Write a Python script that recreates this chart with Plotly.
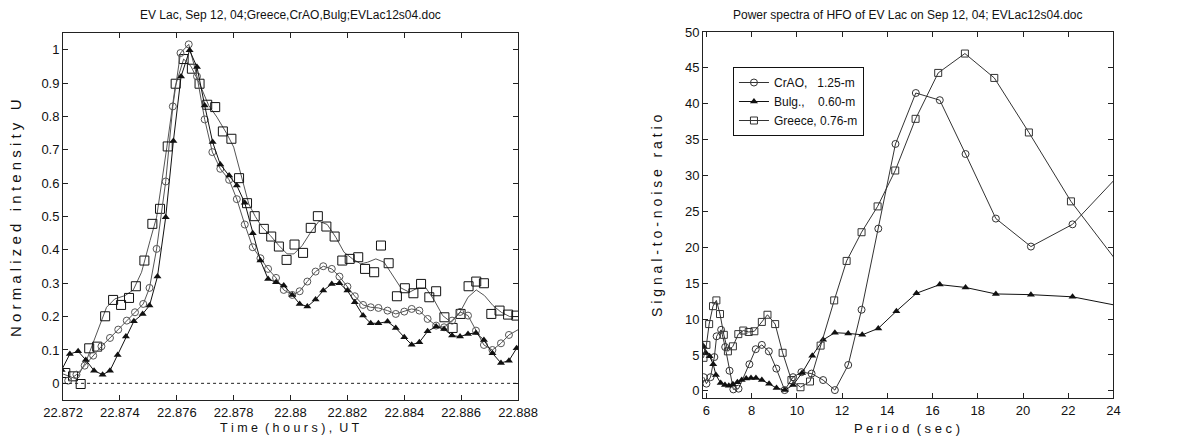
import plotly.graph_objects as go

# ---------------- Left panel: light curves ----------------
t_crao = [22.87218, 22.87247, 22.87276, 22.87306, 22.87335, 22.87365, 22.87394, 22.87424, 22.87453, 22.87482,
          22.87504, 22.87529, 22.87561, 22.87586, 22.87613, 22.87642, 22.87671, 22.87698, 22.87725, 22.87753,
          22.87784, 22.87811, 22.87839, 22.87867, 22.87894, 22.87921, 22.87949, 22.87976, 22.88006, 22.88032,
          22.88059, 22.88088, 22.88115, 22.88145, 22.88172, 22.88200, 22.88226, 22.88255, 22.88282, 22.88309,
          22.88341, 22.88370, 22.88400, 22.88426, 22.88453, 22.88482, 22.88512, 22.88540, 22.88568, 22.88596,
          22.88624, 22.88652, 22.88680, 22.88710, 22.88740, 22.88768, 22.88815]
u_crao = [0.008, 0.026, 0.053, 0.083, 0.111, 0.136, 0.161, 0.188, 0.213, 0.238,
          0.286, 0.403, 0.605, 0.830, 0.990, 1.016, 0.920, 0.791, 0.693, 0.643,
          0.610, 0.552, 0.476, 0.408, 0.375, 0.343, 0.316, 0.280, 0.265, 0.276,
          0.305, 0.335, 0.351, 0.343, 0.320, 0.290, 0.261, 0.235, 0.228, 0.226,
          0.218, 0.208, 0.215, 0.223, 0.218, 0.193, 0.173, 0.168, 0.188, 0.214,
          0.203, 0.158, 0.115, 0.100, 0.120, 0.145, 0.168]

t_bulg = [22.87195, 22.87224, 22.87253, 22.87280, 22.87309, 22.87339, 22.87365, 22.87392, 22.87421, 22.87449,
          22.87480, 22.87504, 22.87532, 22.87561, 22.87588, 22.87615, 22.87645, 22.87671, 22.87698, 22.87726,
          22.87753, 22.87784, 22.87811, 22.87839, 22.87867, 22.87894, 22.87921, 22.87949, 22.87976, 22.88006,
          22.88032, 22.88059, 22.88088, 22.88115, 22.88145, 22.88172, 22.88200, 22.88226, 22.88255, 22.88282,
          22.88309, 22.88341, 22.88370, 22.88400, 22.88426, 22.88453, 22.88482, 22.88512, 22.88540, 22.88568,
          22.88596, 22.88624, 22.88652, 22.88680, 22.88710, 22.88740, 22.88768, 22.88795, 22.88820]
u_bulg = [0.040, 0.088, 0.096, 0.070, 0.038, 0.026, 0.038, 0.085, 0.140, 0.186,
          0.208, 0.233, 0.320, 0.498, 0.726, 0.920, 0.998, 0.948, 0.833, 0.723,
          0.656, 0.623, 0.593, 0.541, 0.450, 0.368, 0.313, 0.303, 0.293, 0.265,
          0.238, 0.230, 0.251, 0.278, 0.298, 0.300, 0.278, 0.243, 0.203, 0.180,
          0.180, 0.185, 0.166, 0.138, 0.116, 0.123, 0.156, 0.170, 0.163, 0.143,
          0.140, 0.148, 0.151, 0.130, 0.090, 0.061, 0.068, 0.105, 0.135]

t_gr = [22.87208, 22.87235, 22.87262, 22.87292, 22.87320, 22.87348, 22.87376, 22.87404, 22.87432, 22.87456,
        22.87486, 22.87514, 22.87541, 22.87568, 22.87596, 22.87624, 22.87653, 22.87680, 22.87707, 22.87735,
        22.87762, 22.87792, 22.87819, 22.87847, 22.87874, 22.87906, 22.87932, 22.87959, 22.87986, 22.88014,
        22.88044, 22.88071, 22.88096, 22.88126, 22.88155, 22.88182, 22.88208, 22.88238, 22.88262, 22.88294,
        22.88318, 22.88345, 22.88374, 22.88402, 22.88432, 22.88459, 22.88488, 22.88512, 22.88541, 22.88570,
        22.88598, 22.88626, 22.88653, 22.88680, 22.88706, 22.88735, 22.88765, 22.88794]
u_gr = [0.031, 0.021, -0.002, 0.105, 0.110, 0.201, 0.250, 0.235, 0.256, 0.291,
        0.368, 0.478, 0.523, 0.710, 0.898, 0.972, 0.943, 0.898, 0.835, 0.828,
        0.755, 0.733, 0.615, 0.540, 0.501, 0.463, 0.440, 0.410, 0.370, 0.416,
        0.391, 0.466, 0.501, 0.470, 0.440, 0.368, 0.373, 0.378, 0.343, 0.333,
        0.413, 0.360, 0.261, 0.285, 0.270, 0.298, 0.258, 0.276, 0.198, 0.166,
        0.208, 0.291, 0.305, 0.300, 0.208, 0.218, 0.206, 0.203]

# smoothed Greece curve
t_grs = [22.87200, 22.87247, 22.87282, 22.87318, 22.87353, 22.87382, 22.87418, 22.87447, 22.87476, 22.87506,
         22.87529, 22.87565, 22.87594, 22.87624, 22.87650, 22.87680, 22.87712, 22.87741, 22.87776, 22.87800,
         22.87824, 22.87853, 22.87876, 22.87900, 22.87929, 22.87959, 22.87988, 22.88012, 22.88041, 22.88071,
         22.88100, 22.88129, 22.88159, 22.88188, 22.88218, 22.88247, 22.88271, 22.88300, 22.88329, 22.88359,
         22.88388, 22.88418, 22.88447, 22.88476, 22.88506, 22.88535, 22.88565, 22.88594, 22.88624, 22.88653,
         22.88682, 22.88712, 22.88741, 22.88771, 22.88800]
u_grs = [0.028, 0.013, 0.068, 0.148, 0.228, 0.253, 0.263, 0.280, 0.333, 0.428,
         0.498, 0.708, 0.888, 0.972, 0.950, 0.898, 0.833, 0.798, 0.748, 0.708,
         0.628, 0.538, 0.500, 0.468, 0.443, 0.413, 0.388, 0.388, 0.413, 0.453,
         0.486, 0.476, 0.438, 0.393, 0.373, 0.358, 0.363, 0.373, 0.363, 0.323,
         0.286, 0.273, 0.286, 0.286, 0.248, 0.203, 0.183, 0.210, 0.258, 0.280,
         0.263, 0.233, 0.213, 0.200, 0.200]

# ---------------- Right panel: power spectra ----------------
p_crao = [5.88, 6.00, 6.18, 6.35, 6.45, 6.65, 6.83, 7.02, 7.19, 7.42, 7.90, 8.18, 8.45, 8.76, 9.09,
          9.46, 9.83, 10.20, 10.65, 11.16, 11.68, 12.27, 12.86, 13.60, 14.36, 15.26, 16.32, 17.46,
          18.80, 20.35, 22.19, 24.40]
s_crao = [1.9, 1.0, 1.9, 4.7, 7.6, 8.5, 6.1, 2.8, 0.2, 0.3, 3.7, 5.8, 6.4, 5.5, 3.1,
          0.1, 1.9, 2.6, 2.4, 1.5, 0.1, 3.6, 11.3, 22.6, 34.4, 41.5, 40.5, 33.0,
          24.0, 20.1, 23.2, 30.6]

p_bulg = [5.87, 5.97, 6.14, 6.30, 6.42, 6.63, 6.82, 6.99, 7.17, 7.37, 7.56, 7.76, 7.97, 8.19, 8.45,
          8.77, 9.10, 9.47, 9.83, 10.23, 10.68, 11.16, 11.68, 12.27, 12.89, 13.60, 14.40, 15.29,
          16.32, 17.46, 18.80, 20.35, 22.19, 24.30]
s_bulg = [6.2, 5.3, 4.8, 3.7, 2.2, 1.1, 0.8, 0.7, 0.9, 1.2, 1.5, 1.7, 1.8, 1.8, 1.5,
          1.0, 0.4, 0.1, 0.8, 2.5, 4.9, 7.1, 8.1, 8.0, 7.8, 8.7, 11.1, 13.6,
          14.8, 14.4, 13.5, 13.4, 13.1, 11.8]

p_gr = [5.87, 6.00, 6.12, 6.29, 6.44, 6.60, 6.77, 6.95, 7.17, 7.41, 7.63, 7.87, 8.12, 8.45, 8.70,
        9.04, 9.37, 9.76, 10.16, 10.58, 11.05, 11.65, 12.20, 12.86, 13.57, 14.35, 15.25, 16.25,
        17.43, 18.73, 20.26, 22.12, 24.50]
s_gr = [4.6, 6.4, 9.3, 11.8, 12.6, 10.7, 7.8, 5.5, 6.2, 7.9, 8.4, 8.2, 8.3, 9.6, 10.6,
        9.3, 5.3, 1.5, 0.5, 1.3, 6.3, 12.6, 18.1, 22.1, 25.7, 30.7, 37.9, 44.3,
        47.0, 43.6, 36.0, 26.4, 16.6]

legend_names = ["CrAO,\u00a0\u00a0\u00a01.25-m", "Bulg.,\u00a0\u00a0\u00a0\u00a00.60-m", "Greece,\u00a00.76-m"]

left_xticks = [22.872, 22.874, 22.876, 22.878, 22.88, 22.882, 22.884, 22.886, 22.888]
left_xtext = ["22.872", "22.874", "22.876", "22.878", "22.88", "22.882", "22.884", "22.886", "22.888"]
left_yticks = [0, 0.1, 0.2, 0.3, 0.4, 0.5, 0.6, 0.7, 0.8, 0.9, 1]
right_xticks = [6, 8, 10, 12, 14, 16, 18, 20, 22, 24]
right_yticks = [0, 5, 10, 15, 20, 25, 30, 35, 40, 45, 50]

FONT = "Liberation Sans Narrow, Arial Narrow, Liberation Sans, Arial, sans-serif"
GRAY = "#555555"
BLACK = "#111111"

fig = go.Figure()

# Left panel traces
fig.add_trace(go.Scatter(x=t_grs, y=u_grs, mode="lines", line=dict(color=GRAY, width=1),
                         showlegend=False, xaxis="x", yaxis="y"))
fig.add_trace(go.Scatter(x=t_gr, y=u_gr, mode="markers",
                         marker=dict(symbol="square-open", size=9, color=BLACK, line=dict(width=1)),
                         showlegend=False, xaxis="x", yaxis="y"))
fig.add_trace(go.Scatter(x=t_crao, y=u_crao, mode="lines+markers", line=dict(color=GRAY, width=1),
                         marker=dict(symbol="circle-open", size=7, color=GRAY, line=dict(width=1)),
                         showlegend=False, xaxis="x", yaxis="y"))
fig.add_trace(go.Scatter(x=t_bulg, y=u_bulg, mode="lines+markers", line=dict(color=BLACK, width=1),
                         marker=dict(symbol="triangle-up", size=7, color=BLACK),
                         showlegend=False, xaxis="x", yaxis="y"))

# Right panel traces
fig.add_trace(go.Scatter(x=p_crao, y=s_crao, mode="lines+markers", name=legend_names[0],
                         line=dict(color="#333333", width=1),
                         marker=dict(symbol="circle-open", size=7, color="#333333", line=dict(width=1)),
                         xaxis="x2", yaxis="y2"))
fig.add_trace(go.Scatter(x=p_bulg, y=s_bulg, mode="lines+markers", name=legend_names[1],
                         line=dict(color=BLACK, width=1),
                         marker=dict(symbol="triangle-up", size=7, color=BLACK),
                         xaxis="x2", yaxis="y2"))
fig.add_trace(go.Scatter(x=p_gr, y=s_gr, mode="lines+markers", name=legend_names[2],
                         line=dict(color="#333333", width=1),
                         marker=dict(symbol="square-open", size=7, color="#333333", line=dict(width=1)),
                         xaxis="x2", yaxis="y2"))

axis_common = dict(showline=True, linecolor="#222222", linewidth=1, mirror="ticks",
                   ticks="inside", ticklen=5, tickcolor="#222222", showgrid=False, zeroline=False,
                   automargin=False,
                   tickfont=dict(family=FONT, size=13, color="#111111"))

fig.update_layout(
    width=1192, height=439,
    margin=dict(l=0, r=0, t=0, b=0, autoexpand=False),
    paper_bgcolor="white", plot_bgcolor="white",
    font=dict(family=FONT, color="#111111"),
    xaxis=dict(domain=[0.0529, 0.4346], range=[22.872, 22.888], tickvals=left_xticks,
               ticktext=left_xtext, anchor="y", **axis_common),
    yaxis=dict(domain=[0.0888, 0.9248], range=[-0.05, 1.05], tickvals=left_yticks,
               anchor="x", **axis_common),
    xaxis2=dict(domain=[0.5898, 0.9341], range=[5.85, 24], tickvals=right_xticks,
                anchor="y2", **axis_common),
    yaxis2=dict(domain=[0.0934, 0.9271], range=[-1, 50], tickvals=right_yticks,
                anchor="x2", **axis_common),
    legend=dict(x=0.6149, y=1 - 67 / 439, xanchor="left", yanchor="top",
                bgcolor="white", bordercolor="#111111", borderwidth=1,
                font=dict(family=FONT, size=12, color="#111111"),
                itemwidth=30, tracegroupgap=0),
    shapes=[dict(type="line", xref="x domain", yref="y", x0=0, x1=1, y0=0, y1=0,
                 line=dict(color="#222222", width=1, dash="3px,3px"))],
    annotations=[
        dict(text="EV Lac, Sep 12, 04;Greece,CrAO,Bulg;EVLac12s04.doc", xref="paper", yref="paper",
             x=0.2437, y=1 - 15 / 439, showarrow=False, xanchor="center", yanchor="middle",
             font=dict(family=FONT, size=12)),
        dict(text="Power spectra of HFO of EV Lac on Sep 12, 04; EVLac12s04.doc", xref="paper",
             yref="paper", x=0.762, y=1 - 15 / 439, showarrow=False, xanchor="center",
             yanchor="middle", font=dict(family=FONT, size=12)),
        dict(text="T i m e  ( h o u r s ) ,  U T".replace("  ", "\u00a0\u00a0"), xref="paper",
             yref="paper", x=0.2437, y=1 - 428 / 439, showarrow=False, xanchor="center",
             yanchor="middle", font=dict(family=FONT, size=12.5)),
        dict(text="P e r i o d  ( s e c )".replace("  ", "\u00a0\u00a0"), xref="paper",
             yref="paper", x=0.761, y=1 - 428 / 439, showarrow=False, xanchor="center",
             yanchor="middle", font=dict(family=FONT, size=13)),
        dict(text="N o r m a l i z e d   i n t e n s i t y   U".replace("   ", "\u00a0\u00a0\u00a0"),
             xref="paper", yref="paper", x=16 / 1192, y=1 - 218 / 439, showarrow=False,
             textangle=-90, xanchor="center", yanchor="middle", font=dict(family=FONT, size=15)),
        dict(text="S i g n a l - t o - n o i s e   r a t i o".replace("   ", "\u00a0\u00a0\u00a0"),
             xref="paper", yref="paper", x=657 / 1192, y=1 - 216 / 439, showarrow=False,
             textangle=-90, xanchor="center", yanchor="middle", font=dict(family=FONT, size=14)),
    ],
)

fig.write_html("out.html")
